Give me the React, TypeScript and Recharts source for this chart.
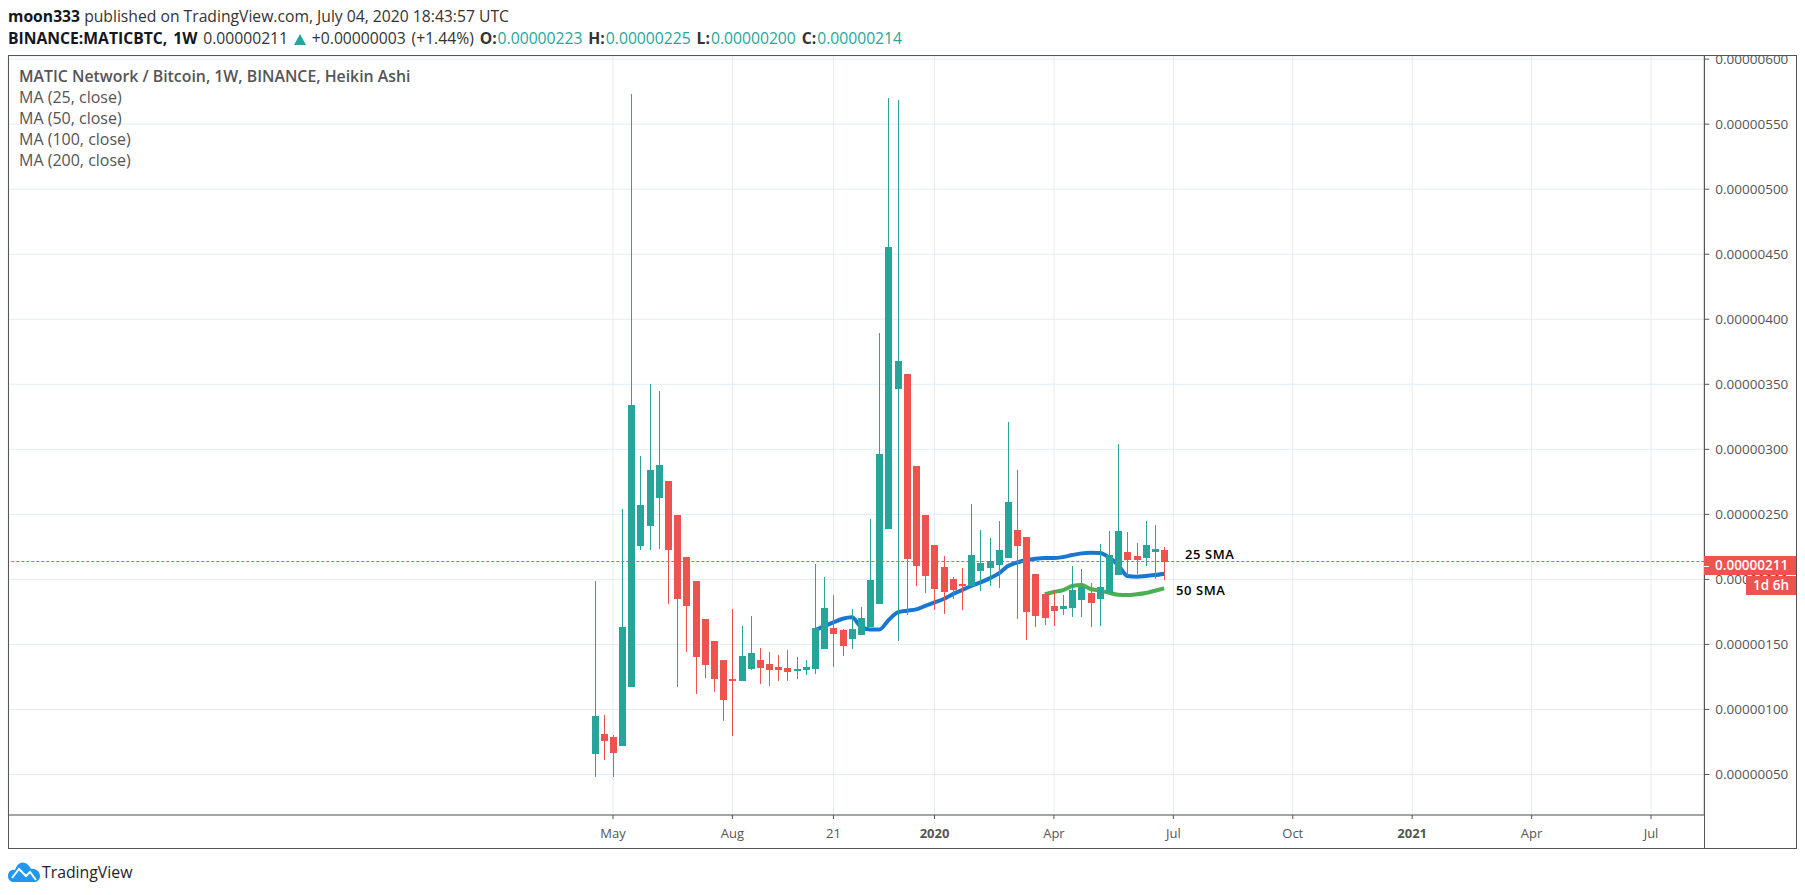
import { ComposedChart, Bar, Line, XAxis, YAxis, CartesianGrid, ReferenceLine } from "recharts";

// prices are in units of 0.00000001 BTC, weekly heikin ashi candles
const opens = [65.9, 81, 78.7, 72, 117.4, 225.6, 241, 262.6, 275.6, 249.5, 217.2, 198.7, 169.5, 152.6, 138, 123.3, 121.8, 131, 138, 134.9, 132.6, 131.8, 130.3, 130.3, 131, 146.4, 162.6, 161, 154.1, 157.2, 163.3, 181, 238.7, 346.4, 358, 287.2, 249.5, 226.4, 209.5, 200.3, 196.4, 194.9, 206.4, 208.7, 211, 216.4, 238, 232.6, 204.1, 188.7, 179.5, 177.2, 178, 184.1, 189.5, 184.9, 189.5, 203.3, 221, 218, 216.4, 221, 222.6];
const highs = [198.7, 95.6, 80.3, 254, 573.3, 294.9, 350.2, 344.9, 275.6, 249.5, 217.2, 198.7, 169.5, 152.6, 138, 177.2, 164.1, 171.8, 147.2, 144.1, 141.8, 145.6, 140.3, 138, 211.8, 201.8, 188, 161.8, 177.2, 178.7, 246.4, 389.5, 570.2, 568.7, 358, 287.2, 249.5, 226.4, 218, 201.8, 208.7, 258, 238, 231.8, 244.9, 321, 284, 232.6, 204.1, 188.7, 191.8, 188, 210.3, 208, 197.2, 227.2, 237.2, 304, 236.4, 228, 244.9, 241.8, 224.9];
const lows = [48.2, 61, 48.2, 72, 117.4, 222.6, 222.6, 223.6, 181, 117.2, 144.1, 111.8, 124.1, 113.3, 91, 79.5, 121.8, 130.3, 119.5, 118, 121.8, 121.8, 123.3, 126.4, 127.2, 146.4, 132.6, 141, 146.4, 157.2, 163.3, 181, 238.7, 152.8, 172.6, 194.9, 189.5, 176.4, 173.3, 184.9, 176.4, 194.9, 191, 194.9, 193.3, 216.4, 169.5, 153.3, 163.3, 164.9, 164.4, 172.6, 171, 171, 163.3, 164.1, 189.5, 203.3, 202.6, 204.1, 210.3, 200.3, 199.5];
const closes = [94.9, 75.6, 66.7, 163.3, 334, 257.2, 284, 288, 222.6, 184.9, 179.5, 140.3, 134.1, 123.3, 107.2, 121.8, 141, 143.3, 131.8, 130.3, 130.3, 128.7, 131, 132.6, 162.6, 178, 157.9, 148.7, 161.8, 170.3, 199.5, 296.4, 455.6, 367.9, 215.6, 210.3, 202.6, 192.6, 190.3, 191.8, 194.9, 218.7, 212.6, 214.1, 222.6, 259.5, 225.6, 174.9, 171.8, 170.3, 175.6, 179.5, 191.8, 194.1, 181.8, 194.1, 218.7, 237.2, 214.9, 214.9, 226.4, 223.3, 213.3];

const ma25Start = 24;
const ma25 = [161, 164, 167, 169.7, 170.8, 163.6, 161.5, 161.5, 168.7, 174.6, 175.9, 176.9, 179.7, 182.3, 184.9, 188.7, 191.8, 194.9, 197.7, 200.8, 204.6, 210.3, 213, 214.9, 215.9, 216.4, 216.4, 217.2, 218.7, 220, 220.5, 220.3, 216.9, 211, 202.6, 202, 202.6, 203.3, 204.4];
const ma50Start = 49;
const ma50 = [188.7, 190.3, 191.8, 194.9, 195.6, 192.6, 191.3, 189.7, 188.2, 187.9, 188.5, 189.5, 191.3, 193.1];

const priceTicks = [50, 100, 150, 200, 250, 300, 350, 400, 450, 500, 550, 600];
const timeTicks = [2, 15, 26, 37, 50, 63, 76, 89, 102, 115];
const timeLabels = ["May", "Aug", "21", "2020", "Apr", "Jul", "Oct", "2021", "Apr", "Jul"];
const yearLabels = ["2020", "2021"];
const legendLines = ["MA (25, close)", "MA (50, close)", "MA (100, close)", "MA (200, close)"];

// the dashed price line sits on the candle close, the badge shows the last trade
const priceLine = 213.7;

const UP = "#26a69a";
const DOWN = "#ef5350";
const FONT = "'Open Sans', sans-serif";
const FRAME = "#555555";

const chartData = opens.map((open, i) => ({
  week: i,
  open,
  close: closes[i],
  high: highs[i],
  low: lows[i],
  range: [lows[i], highs[i]],
  ma25: i >= ma25Start ? ma25[i - ma25Start] : null,
  ma50: i >= ma50Start ? ma50[i - ma50Start] : null,
}));

function Candle(props: any) {
  const { x, y, width, height, payload } = props;
  const top = Math.min(y, y + height);
  const h = Math.abs(height);
  const span = payload.high - payload.low;
  const yOf = (v: number) => top + (h * (payload.high - v)) / span;
  const color = payload.close >= payload.open ? UP : DOWN;
  const cx = Math.round(x + width / 2);
  const bodyTop = Math.round(yOf(Math.max(payload.open, payload.close)));
  const bodyBottom = Math.round(yOf(Math.min(payload.open, payload.close)));
  return (
    <g shapeRendering="crispEdges">
      <rect x={cx} y={top} width={1} height={h} fill={color} />
      <rect x={cx - 3} y={bodyTop} width={7} height={Math.max(bodyBottom - bodyTop, 2)} fill={color} />
    </g>
  );
}

function TimeTick({ x, y, payload }: any) {
  const label = timeLabels[timeTicks.indexOf(payload.value)];
  return (
    <text
      x={x}
      y={y + 17}
      textAnchor="middle"
      fontFamily={FONT}
      fontSize={13}
      fontWeight={yearLabels.includes(label) ? 700 : 400}
      fill="#555"
    >
      {label}
    </text>
  );
}

const formatPrice = (v: number) => (v / 1e8).toFixed(8);

function Rule({ left, top, width, height }: { left: number; top: number; width: number; height: number }) {
  return <div style={{ position: "absolute", left, top, width, height, background: FRAME }} />;
}

function Note({ left, top, children }: { left: number; top: number; children: string }) {
  return (
    <div style={{ position: "absolute", left, top, font: `600 13px ${FONT}`, color: "#000", letterSpacing: 0.6, lineHeight: "18px" }}>
      {children}
    </div>
  );
}

function Val({ children }: { children: string }) {
  return <span style={{ color: UP, marginLeft: 1 }}>{children}</span>;
}

export default function App() {
  return (
    <div style={{ position: "absolute", left: 0, top: 0, width: 1805, height: 895, background: "#fff", overflow: "hidden", fontFamily: FONT }}>
      <div style={{ position: "absolute", left: 8, top: 6, fontSize: 15.7, lineHeight: "21px", color: "#333", whiteSpace: "nowrap" }}>
        <b style={{ color: "#131722" }}>moon333</b> published on TradingView.com, July 04, 2020 18:43:57 UTC
      </div>
      <div style={{ position: "absolute", left: 8, top: 28, fontSize: 15.7, lineHeight: "21px", color: "#333", whiteSpace: "nowrap", wordSpacing: 1.8 }}>
        <b style={{ color: "#131722" }}>BINANCE:MATICBTC, 1W</b> 0.00000211{" "}
        <svg width={12} height={11} viewBox="0 0 12 11" style={{ verticalAlign: -1 }}>
          <polygon points="6,0 12,11 0,11" fill={UP} />
        </svg>{" "}
        +0.00000003 (+1.44%) <b>O:</b><Val>0.00000223</Val> <b>H:</b><Val>0.00000225</Val> <b>L:</b><Val>0.00000200</Val> <b>C:</b><Val>0.00000214</Val>
      </div>

      <div style={{ position: "absolute", left: 0, top: 0 }}>
        <ComposedChart
          width={1805}
          height={895}
          data={chartData}
          margin={{ top: 56, right: 0, bottom: 0, left: 8 }}
        >
          <CartesianGrid stroke="#e1ecf2" strokeWidth={1} />
          <XAxis
            dataKey="week"
            type="number"
            domain={[-63.86, 120.8]}
            ticks={timeTicks}
            interval={0}
            height={80}
            allowDataOverflow
            stroke={FRAME}
            tickSize={4}
            tick={<TimeTick />}
          />
          <YAxis
            orientation="right"
            type="number"
            domain={[18.85, 602.4]}
            ticks={priceTicks}
            interval={0}
            width={100.7}
            allowDataOverflow
            stroke={FRAME}
            tickSize={5}
            tickMargin={6}
            tickFormatter={formatPrice}
            tick={{ fontSize: 13.5, fontFamily: FONT, fill: "#555" }}
          />
          <Line dataKey="ma25" stroke="#1976d2" strokeWidth={4} type="monotone" dot={false} isAnimationActive={false} zIndex={200} />
          <Line dataKey="ma50" stroke="#4caf50" strokeWidth={4} type="monotone" dot={false} isAnimationActive={false} zIndex={200} />
          <Bar dataKey="range" barSize={7} shape={Candle} isAnimationActive={false} zIndex={300} />
          <ReferenceLine y={priceLine} stroke={DOWN} strokeDasharray="3 2" zIndex={400} />
        </ComposedChart>
      </div>

      <div style={{ position: "absolute", left: 19, top: 66, fontSize: 16, lineHeight: "21px", color: "#555", whiteSpace: "nowrap" }}>
        <div style={{ fontWeight: 600, fontSize: 15.85 }}>MATIC Network / Bitcoin, 1W, BINANCE, Heikin Ashi</div>
        {legendLines.map((line) => (
          <div key={line}>{line}</div>
        ))}
      </div>

      <Note left={1185} top={545}>25 SMA</Note>
      <Note left={1176} top={581}>50 SMA</Note>

      {/* outer frame and the axis dividers */}
      <Rule left={8} top={55} width={1789} height={1} />
      <Rule left={8} top={848} width={1789} height={1} />
      <Rule left={8} top={55} width={1} height={794} />
      <Rule left={1796} top={55} width={1} height={794} />
      <Rule left={1704} top={55} width={1} height={794} />

      <div style={{ position: "absolute", left: 1704, top: 556, width: 92, height: 19, background: DOWN, color: "#fff", fontSize: 13.5, fontWeight: 600, lineHeight: "19px", paddingLeft: 11, boxSizing: "border-box" }}>
        0.00000211
      </div>
      <div style={{ position: "absolute", left: 1704, top: 566, width: 5, height: 1, background: "#fff" }} />
      <div style={{ position: "absolute", left: 1746, top: 576, width: 50, height: 19, background: DOWN, color: "#fff", fontSize: 13.5, fontWeight: 600, lineHeight: "19px", textAlign: "center" }}>
        1d 6h
      </div>

      <svg style={{ position: "absolute", left: 8, top: 861 }} width={33} height={21} viewBox="0 0 33 21">
        <path d="M0 15 C0 10 4 8 7 9 C9 3 13 0 17 2 C20 3 22 6 23 8 C27 7 32 10 32 15 C32 19 29 21 26 21 L6 21 C3 21 0 19 0 15 Z" fill="#2196f3" />
        <polyline points="4,17 11,8 18,15 22,11 28,19" fill="none" stroke="#fff" strokeWidth={2} />
      </svg>
      <div style={{ position: "absolute", left: 42, top: 862, fontSize: 15.8, lineHeight: "20px", color: "#1e222d" }}>TradingView</div>
    </div>
  );
}
